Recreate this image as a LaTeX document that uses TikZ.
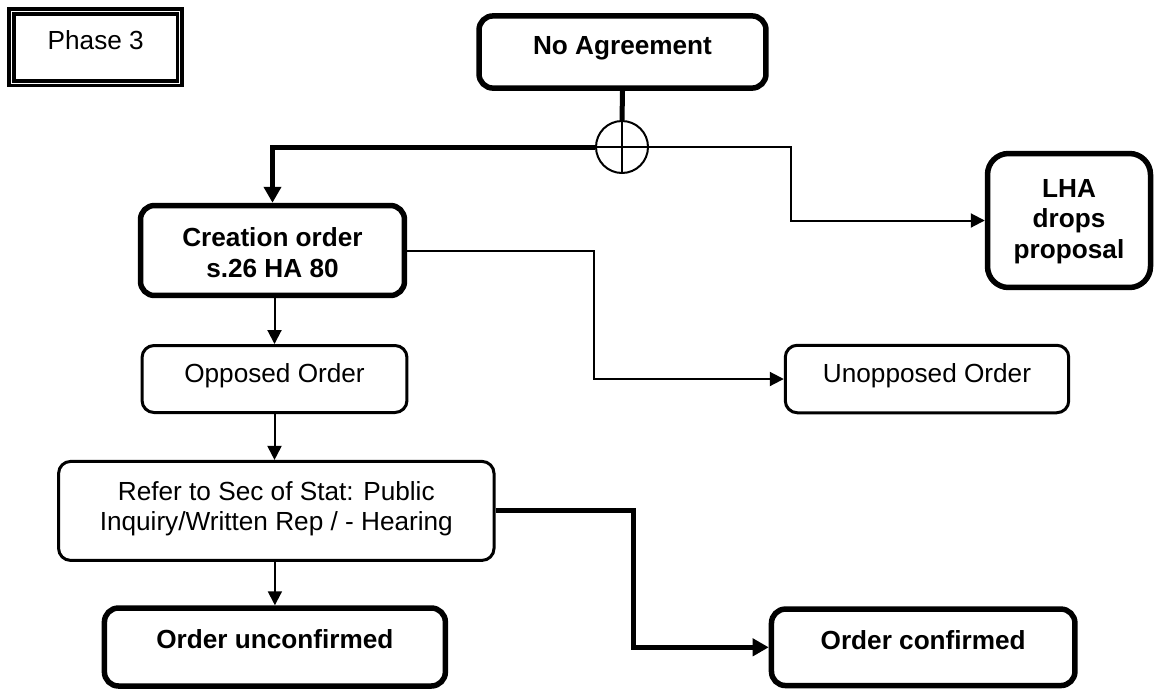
\documentclass[tikz,border=0pt]{standalone}
\usepackage{fontspec}
\setmainfont{Liberation Sans}
\usepackage{tikz}
\usetikzlibrary{arrows.meta}
\tikzset{stage/.style = {draw, rounded corners = 0.24cm, line width = 0.06cm, align = center, inner sep = 0,
    font = \fontsize{14.9}{17.3}\selectfont, text height = 11.2pt}}
\tikzset{keystage/.style = {stage, line width = 0.11cm, rounded corners = 0.28cm,
    font = \fontsize{14.9}{17.3}\selectfont\bfseries}}
\tikzset{phasebox/.style = {draw, double, line width = 0.074cm, double distance = 0.02cm, inner sep = 0,
    font = \fontsize{14.9}{17.3}\selectfont, text height = 11.2pt}}
\tikzset{orjoin/.style = {draw, circle, line width = 0.04cm, minimum size = 1.04cm, inner sep = 0}}
\tikzset{flow/.style = {line width = 0.04cm, -{Triangle[length = 0.28cm, width = 0.28cm]}}}
\tikzset{mainflow/.style = {line width = 0.1cm, -{Triangle[length = 0.32cm, width = 0.34cm]}}}

\begin{document}
\begin{tikzpicture}[x = 0.02cm, y = -0.02cm]
          \useasboundingbox (0, 0) rectangle (1155, 690);
          \node [phasebox, minimum width = 3.37cm, minimum height = 1.436cm, text depth = 9.3pt] (phase) at (95.75, 47.4) {Phase 3};
          \node [keystage, minimum width = 5.74cm, minimum height = 1.444cm, text depth = 7.9pt] (noagr) at (622.5, 52) {No Agreement};
          \node [orjoin] (join) at (622, 147) {};
          \node [keystage, minimum width = 5.28cm, minimum height = 1.8cm, text height = 30.5pt, text depth = 0pt] (creation) at (272.5, 250.5) {Creation order\\s.26 HA 80};
          \node [keystage, rounded corners = 0.42cm, minimum width = 3.26cm, minimum height = 2.68cm, text height = 43.1pt, text depth = 0pt] (lha) at (1069, 220.5) {LHA\\drops\\proposal};
          \node [stage, minimum width = 5.3cm, minimum height = 1.34cm, text depth = 7.3pt] (opposed) at (274.5, 379) {Opposed Order};
          \node [stage, minimum width = 5.67cm, minimum height = 1.35cm, text depth = 7.3pt] (unopposed) at (927, 379) {Unopposed Order};
          \node [stage, minimum width = 8.71cm, minimum height = 1.98cm, text height = 22.4pt, text depth = 0pt] (refer) at (276.3, 510.9) {Refer to Sec of Stat: Public\\Inquiry/Written Rep / - Hearing};
          \node [keystage, minimum width = 6.82cm, minimum height = 1.56cm, text depth = 9.6pt] (unconfirmed) at (274.9, 647) {Order unconfirmed};
          \node [keystage, minimum width = 6.07cm, minimum height = 1.53cm, text depth = 8.8pt] (confirmed) at (923.2, 647.3) {Order confirmed};

          \coordinate (lhabend) at (791, 147);
          \coordinate (unoppbend) at (594, 300);
          \coordinate (confbend) at (633, 580);

          \draw [line width = 0.1cm] (noagr.south) -- (join.north);
          \draw [line width = 0.03cm] (join.north) -- (join.south) (join.west) -- (join.east);
          \draw [mainflow] (join.west) -| (creation.north);
          \draw [flow] (join.east) -- (lhabend) |- (lha.west);
          \draw [flow] (creation.east) -| (unoppbend) |- (unopposed.west);
          \draw [flow] (opposed.north |- creation.south) -- (opposed.north);
          \draw [flow] (opposed.south) -- (opposed.south |- refer.north);
          \draw [flow] (unconfirmed.north |- refer.south) -- (unconfirmed.north);
          \draw [mainflow] (refer.east) -| (confbend) |- (confirmed.west);
        \end{tikzpicture}
\end{document}
